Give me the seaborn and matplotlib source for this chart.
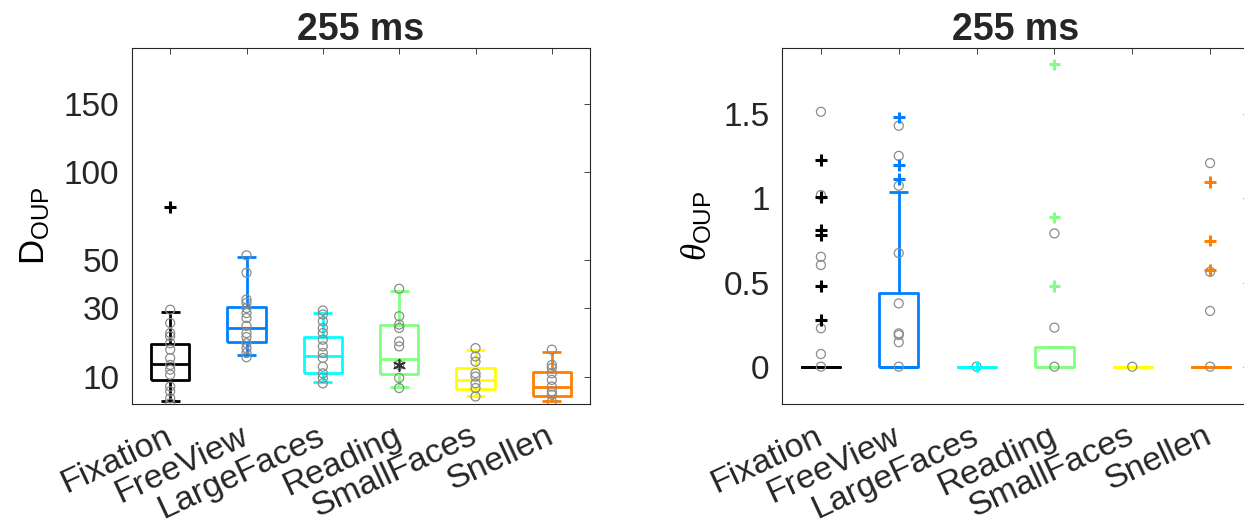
import matplotlib
matplotlib.use("Agg")
import matplotlib.pyplot as plt
import matplotlib.transforms as mtransforms
import numpy as np
import pandas as pd
import seaborn as sns

# %%
tasks = ["Fixation", "FreeView", "LargeFaces", "Reading", "SmallFaces", "Snellen"]
palette = ["#000000", "#0080ff", "#00ffff", "#80ff80", "#ffff00", "#ff8000"]

# D_OUP boxes
d_whislo = [5.6, 15.3, 9.1, 8.1, 6.5, 5.6]
d_q1 = [9.4, 18.7, 10.9, 10.7, 7.7, 6.5]
d_med = [13.0, 23.0, 15.0, 14.3, 9.4, 8.1]
d_q3 = [18.4, 30.2, 20.3, 24.0, 12.2, 11.1]
d_whishi = [28.6, 51.4, 28.3, 36.6, 16.6, 16.1]
d_outlier_task = ["Fixation"]
d_outlier_val = [78.1]
d_star_task = ["Reading"]
d_star_val = [12.7]

# D_OUP single values (grey circles)
d_fixation = [29.3, 24.7, 21.5, 20.5, 18.5, 16.7, 14.5, 12.8, 11.7, 10.6, 8.2, 7.3, 6.1, 5.3]
d_freeview = [52.1, 44.1, 33.1, 31.8, 29.9, 28.1, 26.4, 23.8, 21.5, 20.3, 18.5, 17.1, 15.8, 14.7]
d_largefaces = [29.0, 27.6, 25.3, 23.1, 21.5, 19.5, 17.6, 15.8, 14.5, 12.4, 10.9, 9.9, 8.8]
d_reading = [37.3, 27.0, 24.2, 23.1, 19.0, 17.6, 12.8, 9.9, 7.9]
d_smallfaces = [17.1, 14.9, 13.6, 10.9, 10.2, 8.8, 7.9, 6.4]
d_snellen = [16.7, 12.8, 12.1, 10.9, 9.5, 8.2, 7.3, 6.7, 5.6]

# theta_OUP boxes
t_whislo = [0, 0, 0, 0, 0, 0]
t_q1 = [0, 0, 0, 0, 0, 0]
t_med = [0, 0, 0, 0, 0, 0]
t_q3 = [0, 0.438, 0, 0.119, 0, 0]
t_whishi = [0, 1.036, 0, 0.119, 0, 0]
t_outlier_task = ["Fixation"] * 6 + ["FreeView"] * 3 + ["LargeFaces"] + ["Reading"] * 3 + ["Snellen"] * 3
t_outlier_val = [1.228, 1.01, 0.812, 0.782, 0.479, 0.277,
                 1.481, 1.2, 1.115,
                 0.0,
                 1.796, 0.887, 0.481,
                 1.097, 0.749, 0.574]

# theta_OUP single values
t_fixation = [1.515, 1.02, 0.653, 0.604, 0.228, 0.075, 0.0]
t_freeview = [1.432, 1.253, 1.075, 0.675, 0.376, 0.198, 0.188, 0.145, 0.0]
t_largefaces = [0.0]
t_reading = [0.792, 0.232, 0.0]
t_smallfaces = [0.0]
t_snellen = [1.21, 0.564, 0.331, 0.0]

# %%
sns.set_style("white")
plt.rcParams["font.family"] = ["Liberation Sans", "DejaVu Sans"]
plt.rcParams["mathtext.fontset"] = "custom"
plt.rcParams["mathtext.rm"] = "Liberation Sans"
plt.rcParams["mathtext.it"] = "Liberation Serif:italic"

ink = "#262626"
pos = {t: i for i, t in enumerate(tasks)}
colour = dict(zip(tasks, palette))


def long_frame(groups):
    rows = [(t, pos[t], v) for t, vals in zip(tasks, groups) for v in vals]
    return pd.DataFrame(rows, columns=["task", "x", "value"])


def draw_panel(ax, stats, points, out_task, out_val, ylabel):
    whislo, q1, med, q3, whishi = stats
    for i, t in enumerate(tasks):
        st = dict(whislo=whislo[i], q1=q1[i], med=med[i], q3=q3[i], whishi=whishi[i])
        line = dict(color=colour[t], lw=2, solid_capstyle="butt")
        ax.bxp([st], positions=[i], widths=0.5, capwidths=0.25, showfliers=False,
               boxprops=line, whiskerprops=line, capprops=line, medianprops=line,
               manage_ticks=False, zorder=2)
    df = long_frame(points)
    sns.scatterplot(data=df, x="x", y="value", marker="o", s=42, color="0.55",
                    facecolor="none", edgecolor="0.55", linewidth=0.9,
                    ax=ax, zorder=3, legend=False)
    od = pd.DataFrame({"task": out_task, "x": [pos[t] for t in out_task], "value": out_val})
    sns.scatterplot(data=od, x="x", y="value", hue="task", palette=colour, marker="+",
                    s=70, linewidth=2.2, ax=ax, zorder=4, legend=False)

    ax.set_xlim(-0.5, len(tasks) - 0.5)
    ax.set_xticks(range(len(tasks)))
    ax.set_xticklabels(tasks, rotation=25, ha="right", va="center",
                       rotation_mode="anchor", fontsize=24.5)
    shift = mtransforms.ScaledTranslation(20 / 100, 0, ax.figure.dpi_scale_trans)
    for lab in ax.get_xticklabels():
        lab.set_transform(lab.get_transform() + shift)
    ax.set_xlabel("")
    ax.set_ylabel(ylabel, fontsize=25, color="black")
    ax.set_title("255 ms", fontsize=27, fontweight="bold", pad=6)
    ax.tick_params(axis="both", direction="in", length=4, width=0.6, top=True, right=True,
                   colors=ink)
    ax.tick_params(axis="y", pad=9, labelsize=24)
    ax.tick_params(axis="x", pad=22)
    for sp in ax.spines.values():
        sp.set_color(ink)
        sp.set_linewidth(0.8)


fig = plt.figure(figsize=(12.44, 5.31), dpi=100)
ax1 = fig.add_axes([132 / 1244, 127 / 531, 458 / 1244, 356 / 531])
ax2 = fig.add_axes([782 / 1244, 127 / 531, 467 / 1244, 356 / 531])

# left: D_OUP on a square-root axis
ax1.set_yscale("function", functions=(np.sqrt, np.square))
draw_panel(ax1, (d_whislo, d_q1, d_med, d_q3, d_whishi),
           [d_fixation, d_freeview, d_largefaces, d_reading, d_smallfaces, d_snellen],
           d_outlier_task, d_outlier_val, r"$\mathrm{D}_{\mathrm{OUP}}$")
ax1.scatter([pos[t] for t in d_star_task], d_star_val, marker=(6, 2, 0), s=70,
            color="#333333", linewidth=1.2, zorder=4)
ax1.set_ylim(5.2, 199)
ax1.set_yticks([10, 30, 50, 100, 150])
ax1.set_yticklabels(["10", "30", "50", "100", "150"])
ax1.yaxis.set_label_coords(-0.175, 0.5)

# right: theta_OUP
draw_panel(ax2, (t_whislo, t_q1, t_med, t_q3, t_whishi),
           [t_fixation, t_freeview, t_largefaces, t_reading, t_smallfaces, t_snellen],
           t_outlier_task, t_outlier_val, r"$\theta_{\mathrm{OUP}}$")
ax2.set_ylim(-0.222, 1.894)
ax2.set_yticks([0, 0.5, 1, 1.5])
ax2.set_yticklabels(["0", "0.5", "1", "1.5"])
ax2.yaxis.set_label_coords(-0.146, 0.5)

fig.savefig("out.png", dpi=100)
